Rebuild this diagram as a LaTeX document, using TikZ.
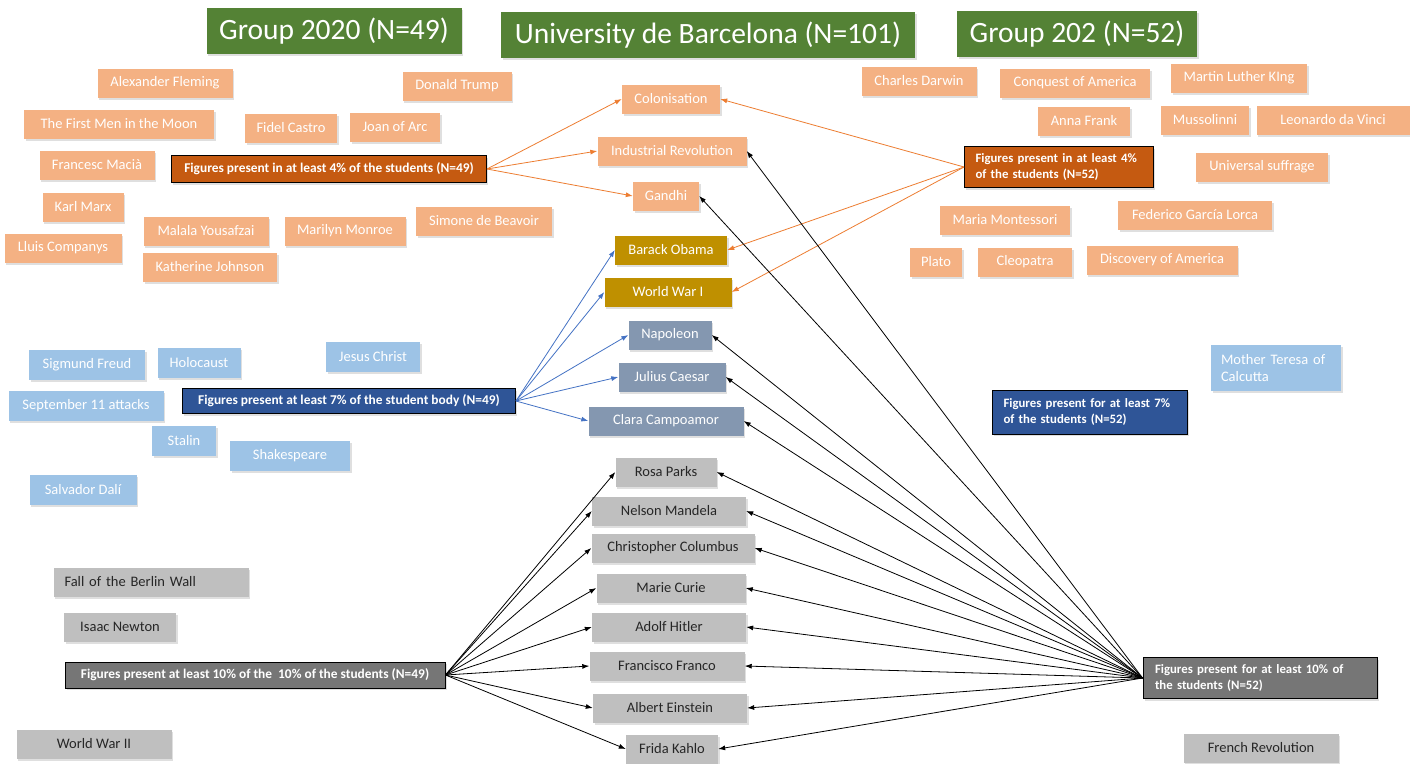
\documentclass[tikz,border=0pt]{standalone}
\usepackage{fontspec}
\setmainfont{Carlito}
\usepackage{tikz}
\usetikzlibrary{arrows.meta, shadows}

\definecolor{titlegreen}{HTML}{548235}
\definecolor{lorange}{HTML}{F4B183}
\definecolor{dorange}{HTML}{C55A11}
\definecolor{lineorange}{HTML}{ED7D31}
\definecolor{gold}{HTML}{BF9000}
\definecolor{steel}{HTML}{8497B0}
\definecolor{lblue}{HTML}{9DC3E6}
\definecolor{dblue}{HTML}{2F5597}
\definecolor{lineblue}{HTML}{4472C4}
\definecolor{lgray}{HTML}{BFBFBF}
\definecolor{dgray}{HTML}{767676}
\definecolor{graytext}{HTML}{262626}

\begin{document}
\begin{tikzpicture}[x=1pt, y=-1pt,
    box/.style={inner sep=0pt, minimum height=29pt, text=white,
        font=\fontsize{14.5}{17}\selectfont,
        drop shadow={shadow xshift=1.5pt, shadow yshift=-2pt, opacity=0.25}},
    orangebox/.style={box, fill=lorange},
    goldbox/.style={box, fill=gold},
    steelbox/.style={box, fill=steel},
    bluebox/.style={box, fill=lblue},
    graybox/.style={box, fill=lgray, text=graytext},
    titlebox/.style={box, fill=titlegreen, minimum height=46pt,
        font=\fontsize{29.5}{32}\selectfont},
    keybox/.style={draw=black, line width=0.9pt, inner sep=0pt, text=white,
        font=\bfseries\fontsize{13.4}{16.5}\selectfont,
        drop shadow={shadow xshift=1.5pt, shadow yshift=-2pt, opacity=0.25}},
    keybox2/.style={keybox, align=left, font=\bfseries\fontsize{12.8}{16.5}\selectfont},
    orangeline/.style={lineorange, line width=0.8pt, -{Latex[length=7pt, width=5pt]}},
    blueline/.style={lineblue, line width=0.8pt, -{Latex[length=7pt, width=5pt]}},
    blackline/.style={black, line width=0.8pt, -{Latex[length=7pt, width=5pt]}}]

    \useasboundingbox[fill=white] (0,0) rectangle (1410,763);

    % titles
    \node[titlebox, minimum width=255pt] (g2020) at (334,31) {Group 2020 (N=49)};
    \node[titlebox, minimum width=414pt] (ub) at (708,35) {University de Barcelona (N=101)};
    \node[titlebox, minimum width=240pt] (g202) at (1077,34) {Group 202 (N=52)};

    % light orange boxes
    \foreach \n/\x/\y/\w/\t in {
        fleming/165/83/135/Alexander Fleming,
        trump/457/86/109/Donald Trump,
        firstmen/119/124/190/The First Men  in the Moon,
        castro/291/128/92/Fidel Castro,
        joan/395/127/90/Joan of Arc,
        macia/97/165/115/Francesc Macià,
        marx/83/207/81/Karl Marx,
        malala/206/231/125/Malala Yousafzai,
        monroe/345/231/121/Marilyn Monroe,
        beauvoir/484/221/136/Simone de Beavoir,
        companys/63/248/117/Lluis Companys,
        johnson/210/267/134/Katherine Johnson,
        colonisation/671/99/98/Colonisation,
        industrial/672/151/149/Industrial Revolution,
        gandhi/666/196/66/Gandhi,
        darwin/919/81/115/Charles Darwin,
        conquest/1075/83/150/Conquest of America,
        king/1239/78/136/Martin Luther KIng,
        frank/1084/121/92/Anna Frank,
        mussolini/1205/120/88/Mussolinni,
        davinci/1333/120/153/Leonardo da Vinci,
        suffrage/1262/167/132/Universal suffrage,
        montessori/1005/220/130/Maria Montessori,
        lorca/1195/215/154/Federico García Lorca,
        plato/936/262/52/Plato,
        cleopatra/1025/262/94/Cleopatra,
        discovery/1162/260/151/Discovery of America}{
        \node[orangebox, minimum width=\w pt] (\n) at (\x,\y) {\t};
    }

    % gold and steel boxes
    \foreach \n/\x/\y/\w/\t in {
        obama/671/250/112/Barack Obama,
        wwi/668/292/127/World War I}{
        \node[goldbox, minimum width=\w pt] (\n) at (\x,\y) {\t};
    }
    \foreach \n/\x/\y/\w/\t in {
        napoleon/670/335/83/Napoleon,
        caesar/672/377/107/Julius Caesar,
        campoamor/666/421/155/Clara Campoamor}{
        \node[steelbox, minimum width=\w pt] (\n) at (\x,\y) {\t};
    }

    % light blue boxes
    \foreach \n/\x/\y/\w/\t in {
        freud/87/365/116/Sigmund Freud,
        holocaust/199/363/83/Holocaust,
        jesus/373/357/94/Jesus Christ,
        september/86/406/155/September  11 attacks,
        stalin/184/441/64/Stalin,
        shakespeare/290/456/120/Shakespeare,
        dali/83/490/107/Salvador Dalí}{
        \node[bluebox, minimum width=\w pt, minimum height=30pt] (\n) at (\x,\y) {\t};
    }
    \node[bluebox, minimum width=130pt, minimum height=46pt, text width=110pt, align=left]
        (teresa) at (1276,368) {Mother Teresa of\\Calcutta};

    % gray boxes
    \foreach \n/\x/\y/\w/\t in {
        parks/666/472/101/Rosa Parks,
        mandela/669/511/154/Nelson Mandela,
        columbus/673/548/163/Christopher Columbus,
        curie/671/588/149/Marie Curie,
        hitler/669/627/154/Adolf Hitler,
        franco/667/666/155/Francisco Franco,
        einstein/670/708/154/Albert Einstein,
        kahlo/672/749/92/Frida Kahlo,
        newton/120/627/112/Isaac Newton,
        wwii/94/744/155/World War II,
        french/1261/748/155/French Revolution}{
        \node[graybox, minimum width=\w pt] (\n) at (\x,\y) {\t};
    }
    \node[graybox, minimum width=195pt, text width=173pt, align=left] (berlin) at (151,582) {Fall of the Berlin Wall};

    % key boxes
    \node[keybox, fill=dorange, minimum width=315pt, minimum height=27pt] (four49) at (329,169)
        {Figures present in at least 4\% of the students (N=49)};
    \node[keybox2, fill=dorange, minimum width=189pt, minimum height=41pt, text width=167pt] (four52) at (1059,167)
        {Figures present in at least 4\%\\of the students (N=52)};
    \node[keybox, fill=dblue, minimum width=333pt, minimum height=25pt] (seven49) at (349,401)
        {Figures present at least 7\% of the student body (N=49)};
    \node[keybox2, fill=dblue, minimum width=195pt, minimum height=44pt, text width=173pt] (seven52) at (1090,412)
        {Figures present for at least 7\%\\of the students (N=52)};
    \node[keybox, fill=dgray, minimum width=380pt, minimum height=26pt] (ten49) at (255,675)
        {Figures present at least 10\% of the \ 10\% of the students (N=49)};
    \node[keybox2, fill=dgray, minimum width=234pt, minimum height=41pt, text width=210pt] (ten52) at (1260,678)
        {Figures present for at least 10\% of\\the students (N=52)};

    % connectors
    \foreach \t in {colonisation, industrial, gandhi}
        \draw[orangeline] (four49.east) -- (\t.west);
    \foreach \t in {colonisation, obama, wwi}
        \draw[orangeline] (four52.west) -- (\t.east);
    \foreach \t in {obama, wwi, napoleon, caesar, campoamor}
        \draw[blueline] (seven49.east) -- (\t.west);
    \foreach \t in {parks, mandela, columbus, curie, hitler, franco, einstein, kahlo}
        \draw[blackline] (ten49.east) -- (\t.west);
    \foreach \t in {industrial, gandhi, napoleon, caesar, campoamor, parks, mandela,
        columbus, curie, hitler, franco, einstein, kahlo}
        \draw[blackline] (ten52.west) -- (\t.east);
\end{tikzpicture}
\end{document}
